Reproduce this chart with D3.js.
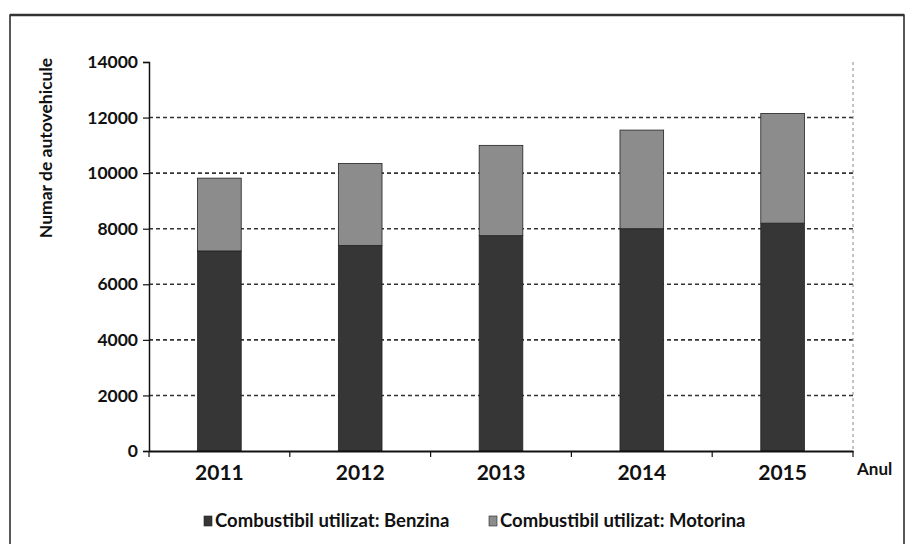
<!DOCTYPE html>
<html><head><meta charset="utf-8">
<script src="https://cdn.jsdelivr.net/npm/d3@7/dist/d3.min.js"></script>
<style>
body{margin:0;background:#fff;}
text{font-family:Lato,"Open Sans",sans-serif;font-weight:bold;fill:#111;}
</style></head>
<body><svg id="c" width="912" height="544"></svg>
<script>
const years = ["2011","2012","2013","2014","2015"];
const benzina = [7200, 7400, 7750, 8000, 8200];
const motorina = [2620, 2950, 3250, 3550, 3950];
const yTicks = [0,2000,4000,6000,8000,10000,12000,14000];
const seriesNames = ["Combustibil utilizat: Benzina","Combustibil utilizat: Motorina"];
const colors = ["#363636","#8c8c8c"];

const svg = d3.select("#c");
const L=149, R=853, T=62, B=451;

// frame
svg.append("rect").attr("x",10).attr("y",15).attr("width",894).attr("height",540)
  .attr("fill","none").attr("stroke","#222").attr("stroke-width",1.5);
svg.append("line").attr("x1",10).attr("x2",904).attr("y1",15).attr("y2",15).attr("stroke","#333").attr("stroke-width",2.5);

const x = d3.scaleBand().domain(years).range([L,R]).paddingInner(0.69).paddingOuter(0.345);
const y = d3.scaleLinear().domain([0,14000]).range([B,T]);

// gridlines
svg.append("g").selectAll("line").data(yTicks.filter(v=>v>0 && v<14000)).join("line")
  .attr("x1",L).attr("x2",R).attr("y1",d=>y(d)).attr("y2",d=>y(d))
  .attr("stroke","#333").attr("stroke-width",1.6).attr("stroke-dasharray","4,3");
// right dashed border
svg.append("line").attr("x1",R).attr("x2",R).attr("y1",T).attr("y2",B)
  .attr("stroke","#888").attr("stroke-width",1).attr("stroke-dasharray","3,3");

const data = years.map((yr,i)=>({year:yr, Benzina:benzina[i], Motorina:motorina[i]}));
const stack = d3.stack().keys(["Benzina","Motorina"])(data);
svg.append("g").selectAll("g").data(stack).join("g")
  .attr("fill",(d,i)=>colors[i])
  .selectAll("rect").data(d=>d).join("rect")
  .attr("x",d=>x(d.data.year)).attr("width",x.bandwidth())
  .attr("y",d=>y(d[1])).attr("height",d=>y(d[0])-y(d[1]))
  .attr("stroke","#222").attr("stroke-width",0.8);

// y axis
const ya = svg.append("g").attr("transform",`translate(${L},0)`)
  .call(d3.axisLeft(y).tickValues(yTicks).tickFormat(d3.format("d")).tickSizeOuter(0).tickSize(6));
ya.select(".domain").attr("stroke","#111").attr("stroke-width",1.5);
ya.selectAll(".tick line").attr("stroke","#111").attr("stroke-width",1.2);
ya.selectAll("text").attr("font-size",17.5).attr("dx",-2).attr("fill","#111")
  .style("font-family","Lato").style("font-weight","bold");

// x axis
const xa = svg.append("g").attr("transform",`translate(0,${B})`)
  .call(d3.axisBottom(x).tickSize(0).tickSizeOuter(0));
xa.select(".domain").attr("stroke","#111").attr("stroke-width",1.8);
xa.selectAll("text").attr("font-size",21).attr("dy","1.25em").attr("fill","#111")
  .style("font-family","Lato").style("font-weight","bold");
// band boundary ticks
const bounds = d3.range(years.length+1).map(i=>L+i*x.step());
svg.append("g").selectAll("line").data(bounds).join("line")
  .attr("x1",d=>d).attr("x2",d=>d).attr("y1",B).attr("y2",B+6)
  .attr("stroke","#111").attr("stroke-width",1.2);

svg.append("text").attr("x",857).attr("y",475).attr("font-size",17).text("Anul");

svg.append("text").attr("transform","translate(52,148) rotate(-90)")
  .attr("text-anchor","middle").attr("font-size",17.5).text("Numar de autovehicule");

// legend
const lx=[204,489];
const lg = svg.append("g").selectAll("g").data(seriesNames).join("g")
  .attr("transform",(d,i)=>`translate(${lx[i]},521)`);
lg.append("rect").attr("x",0).attr("y",-5).attr("width",8).attr("height",10)
  .attr("fill",(d,i)=>colors[i]).attr("stroke","#222").attr("stroke-width",0.6);
lg.append("text").attr("x",11).attr("y",6).attr("font-size",18.5).text(d=>d);
</script></body></html>
